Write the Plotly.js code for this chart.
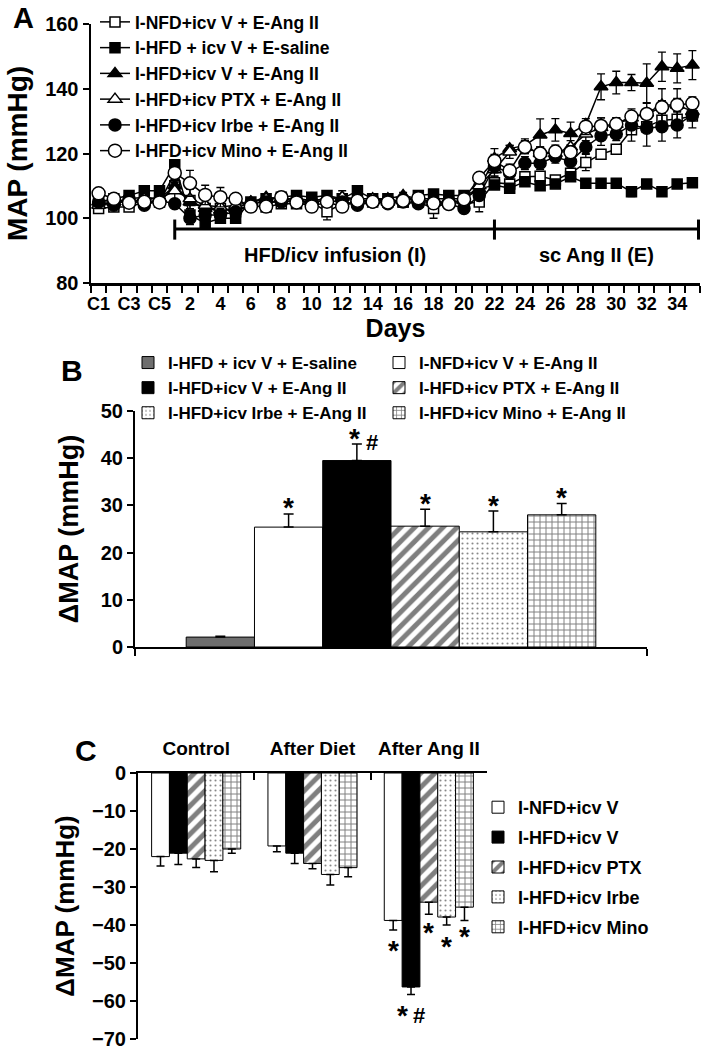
<!DOCTYPE html>
<html><head><meta charset="utf-8">
<script src="https://cdn.plot.ly/plotly-3.0.1.min.js"></script>
<style>html,body{margin:0;padding:0;background:#fff}#chart{width:727px;height:1050px}</style>
</head><body><div id="chart"></div>
<script>
// ---------- Panel A data ----------
const days = ['C1','C2','C3','C4','C5','1','2','3','4','5','6','7','8','9','10','11','12','13','14','15','16','17','18','19','20','21','22','23','24','25','26','27','28','29','30','31','32','33','34','35'];
const aNames = ['I-NFD+icv V + E-Ang II','I-HFD + icv V + E-saline','I-HFD+icv V + E-Ang II','I-HFD+icv PTX + E-Ang II','I-HFD+icv Irbe + E-Ang II','I-HFD+icv Mino + E-Ang II'];
const mapNfd = [103,103.5,103.5,105,105, 110,105.5,103,103,102, 104,103.5,104.5,104.5,105, 102,104.5,105,105,105, 105,105,103,105,104.5, 105,111,110.6,112.8,113, 111.8,113.9,117.2,119.8,121.3, 127.3,128.3,130.3,130.6,131.6];
const mapSaline = [105,106,107,108.5,108.5, 116.5,101,98.5,100,100, 105,106,106.5,107,106.5, 107,106,108.5,106,106, 105,107,107.5,107,107, 109,110.3,109.3,111.3,110, 110.6,112.8,110.8,110.8,110.8, 108.2,110.6,108.2,110.6,111];
const mapHfd = [105,105,106,106.5,106, 110,105,103,102.5,103, 105,106.5,106,106,105.5, 106,106.5,105.5,105.5,106, 107,106,106,106,106, 109,118.5,121.5,122.5,125.7, 127.3,126.2,129,140.6,141.9, 141.9,141.7,146.8,146.3,147.3];
const mapPtx = [104,105,105,106,106, 108.5,106,104,103.5,104, 105,106,106,106,105.5, 106,106.5,106,106,105, 105.5,106,105,105,105.5, 110,115,120.5,122,120, 120,122,126,128,129, 131,132.5,135,135,133];
const mapIrbe = [105,104,106,104,105.5, 104.5,100,101,101,102, 104.5,105,105,105.5,105, 105.5,105,104,105,104.5, 105,104.5,105,104.5,103, 107,116,114,117,117, 119,117.5,122,125.5,126, 128.8,127.8,128.3,128.8,131.9];
const mapMino = [107.7,106,104.8,105.1,104.9, 114,110.8,107.2,106.5,106, 103.6,103.6,106.5,104.9,103.6, 105.1,103.6,105.4,105.1,104.9, 105.4,106.2,104.6,104.4,105.9, 112.5,117.7,114.7,122,120, 120.6,120.4,128.3,128.5,129.1, 131.4,132.2,134.3,135,135.5];
const errNfd = [1,1,1,1,1, 2,1.5,1.5,1.5,1.5, 1,1,1,1,1, 2.5,1,1,1,1, 1,1,3,1,1, 3,2,1,1,1, 1,1,2.5,1,1, 1,1,1,1,1];
const errSaline = [1,1,1,1,1, 1,1.5,1.5,1.5,1.5, 1,1,1,1,1, 1,1,1,1,1, 1,1,1,1,1, 1,1,1,1,1, 1,1,1,1,1, 1.5,1,1,1,1];
const errHfd = [1,1,1,1,1, 2,2,2,1.5,1.5, 1,1,1,1,1, 1,2,1,1,1, 1,1,1,1,1, 2,3,1,2,5, 3.5,3.5,1,4,3.5, 2.5,6,4.5,4.5,4.5];
const errPtx = [1,1,1,1,1, 3,3,2,2,1, 1,1,1,1,1, 1,1,1,1,1, 1,1,1,1,1, 1,2,2,2,2, 2,2,3,3,2, 2,3,5,5,2];
const errIrbe = [1,1,1,1,1, 1,2,1.5,2,1, 1,1,1,1,1, 1,1,1,1,1, 1,1,1,1,1, 1,2,2,2,2, 2,2,2,3,2, 5,5.5,4.5,4,4];
const errMino = [1,1,1,1,1, 3,4,3,3,1, 1,1,1,1,1, 1,1,1,1,1, 1,1,1,1,1, 1,2,2,2,2, 2,2,2.5,2.5,2, 1.5,1.5,2,2,2];

// ---------- Panel B data ----------
const bNames = ['I-HFD + icv V + E-saline','I-NFD+icv V + E-Ang II','I-HFD+icv V + E-Ang II','I-HFD+icv PTX + E-Ang II','I-HFD+icv Irbe + E-Ang II','I-HFD+icv Mino + E-Ang II'];
const bValues = [2.1, 25.4, 39.5, 25.6, 24.4, 28.0];
const bErrors = [0.2, 2.8, 3.5, 3.6, 4.4, 2.4];
const bMarks = ['', '*', '*#', '*', '*', '*'];

// ---------- Panel C data ----------
const cGroups = ['Control','After Diet','After Ang II'];
const cNames = ['I-NFD+icv V','I-HFD+icv V','I-HFD+icv PTX','I-HFD+icv Irbe','I-HFD+icv Mino'];
const cNfd = [-22.0, -19.2, -38.8];
const cHfd = [-21.1, -21.1, -56.3];
const cPtx = [-22.6, -23.8, -34.0];
const cIrbe = [-23.0, -26.7, -37.9];
const cMino = [-20.0, -24.9, -35.3];
const cErrNfd = [2.5, 1.5, 2.5];
const cErrHfd = [3.0, 2.7, 2.0];
const cErrPtx = [2.3, 1.4, 3.2];
const cErrIrbe = [3.0, 2.8, 2.1];
const cErrMino = [1.1, 2.4, 3.5];
const cMarks = ['*', '*#', '*', '*', '*']; // for the "After Ang II" group

// ---------- styling ----------
const FONT = 'Liberation Sans, Arial, Helvetica, sans-serif';
const W = 727, H = 1050;
const fx = p => p / W;
const fy = p => 1 - p / H;
const bold = (size) => ({family: FONT, size: size, color: 'black', weight: 'bold'});

const idx = days.map((d, i) => i);
const aSeries = [mapNfd, mapSaline, mapHfd, mapPtx, mapIrbe, mapMino];
const aErrs = [errNfd, errSaline, errHfd, errPtx, errIrbe, errMino];
const aMarkers = [
  {symbol: 'square', color: 'white', size: 10},
  {symbol: 'square', color: 'black', size: 10},
  {symbol: 'triangle-up', color: 'black', size: 12},
  {symbol: 'triangle-up', color: 'white', size: 12},
  {symbol: 'circle', color: 'black', size: 12},
  {symbol: 'circle', color: 'white', size: 13}
];

const traces = [];
aSeries.forEach((ys, k) => {
  traces.push({
    type: 'scatter', mode: 'lines+markers', x: idx, y: ys, name: aNames[k],
    xaxis: 'x', yaxis: 'y', legend: 'legend', cliponaxis: false,
    line: {color: 'black', width: 1.5},
    marker: {symbol: aMarkers[k].symbol, color: aMarkers[k].color, size: aMarkers[k].size, line: {color: 'black', width: 1.5}},
    error_y: {type: 'data', array: aErrs[k], color: 'black', thickness: 1.3, width: 4}
  });
});

// bar fills
const fills = {
  white: {color: 'white'},
  black: {color: 'black'},
  gray: {color: '#6e6e6e'},
  hatch: {color: 'white', pattern: {shape: '/', fgcolor: 'black', bgcolor: 'white', fillmode: 'overlay', size: 10, solidity: 0.5}},
  dots: {color: 'white', pattern: {shape: '.', fgcolor: '#111', bgcolor: 'white', fillmode: 'overlay', size: 5, solidity: 0.14}},
  grid: {color: 'white', pattern: {shape: '+', fgcolor: 'black', bgcolor: 'white', fillmode: 'overlay', size: 6, solidity: 0.3}}
};
const bFill = [fills.gray, fills.white, fills.black, fills.hatch, fills.dots, fills.grid];
const cFill = [fills.white, fills.black, fills.hatch, fills.dots, fills.grid];

const bW = 0.8 / bValues.length;
bValues.forEach((v, k) => {
  traces.push({
    type: 'bar', x: ['ΔMAP'], y: [v], name: bNames[k], xaxis: 'x2', yaxis: 'y2', legend: 'legend2',
    width: bW, offset: -0.4 + k * bW,
    marker: Object.assign({}, bFill[k], {line: {color: 'black', width: 1}}),
    error_y: {type: 'data', symmetric: false, array: [bErrors[k]], arrayminus: [0], color: 'black', thickness: 1.5, width: 5}
  });
});

const cSeries = [cNfd, cHfd, cPtx, cIrbe, cMino];
const cErrs = [cErrNfd, cErrHfd, cErrPtx, cErrIrbe, cErrMino];
cSeries.forEach((ys, k) => {
  traces.push({
    type: 'bar', x: cGroups, y: ys, name: cNames[k], xaxis: 'x3', yaxis: 'y3', legend: 'legend3', legendgroup: 'c' + k,
    marker: Object.assign({}, cFill[k], {line: {color: 'black', width: 1}}),
    error_y: {type: 'data', symmetric: false, array: ys.map(() => 0), arrayminus: cErrs[k], color: 'black', thickness: 1.5, width: 4}
  });
});

// ---------- annotations ----------
const ann = [];
const txt = (x, y, text, size, xref, yref, extra) => Object.assign({x: x, y: y, text: text, xref: xref, yref: yref, xanchor: 'center', yanchor: 'middle', showarrow: false, font: bold(size)}, extra || {});
ann.push(txt(fx(24), fy(0), 'A', 29, 'paper', 'paper', {yanchor: 'top'}));
ann.push(txt(fx(72), fy(371), 'B', 30, 'paper', 'paper'));
ann.push(txt(fx(86), fy(750), 'C', 30, 'paper', 'paper'));

// bracket labels in panel A
const iStart = days.indexOf('1'), iMid = days.indexOf('22'), iEnd = days.length - 1 + 0.4;
const yBr = 96.7, yBrLo = 93.4, yBrHi = 99.6;
ann.push(txt((iStart + iMid) / 2, 88.6, 'HFD/icv infusion (I)', 20, 'x', 'y'));
ann.push(txt((iMid + iEnd) / 2, 88.6, 'sc Ang II (E)', 20, 'x', 'y'));
// significance marks at right of panel A
const last = days.length - 1;
[[0.83, 149.1, '*'], [1.68, 146.8, '#'], [0.98, 139.6, '*'], [1.27, 134.7, '*'], [1.2, 130.6, '*'], [0.94, 126.2, '*']].forEach(m => {
  ann.push(txt(last + m[0], m[1], m[2], m[2] === '*' ? 28 : 22, 'x', 'y', {yshift: m[2] === '*' ? -8 : -1.5}));
});
// panel B marks
bMarks.forEach((m, k) => {
  if (!m) return;
  const cx = -0.4 + (k + 0.5) * bW;
  const yTop = bValues[k] + bErrors[k];
  ann.push(txt(cx, yTop, '*', 28, 'x2', 'y2', {yshift: 6, xshift: m.indexOf('#') >= 0 ? -2 : 0}));
  if (m.indexOf('#') >= 0) ann.push(txt(cx, yTop, '#', 22, 'x2', 'y2', {xshift: 15, yshift: 2}));
});
// panel C marks (After Ang II group)
const cW = (1 - 0.234) / cSeries.length;
const cStarShift = [-21, -21, -18, -21, -16];
cMarks.forEach((m, k) => {
  const g = cGroups.length - 1;
  const cx = g - (1 - 0.234) / 2 + (k + 0.5) * cW;
  const yBot = cSeries[k][g] - cErrs[k][g];
  const hasHash = m.indexOf('#') >= 0;
  ann.push(txt(cx, yBot, '*', 28, 'x3', 'y3', {yshift: cStarShift[k], xshift: hasHash ? -9 : 0}));
  if (hasHash) ann.push(txt(cx, yBot, '#', 22, 'x3', 'y3', {yshift: -21, xshift: 8}));
});

const shapes = [
  {type: 'line', xref: 'x', yref: 'y', x0: iStart, x1: iEnd, y0: yBr, y1: yBr, line: {color: 'black', width: 3}},
  {type: 'line', xref: 'x', yref: 'y', x0: iStart, x1: iStart, y0: yBrLo, y1: yBrHi, line: {color: 'black', width: 3}},
  {type: 'line', xref: 'x', yref: 'y', x0: iMid, x1: iMid, y0: yBrLo, y1: yBrHi, line: {color: 'black', width: 3}},
  {type: 'line', xref: 'x', yref: 'y', x0: iEnd, x1: iEnd, y0: yBrLo, y1: yBrHi, line: {color: 'black', width: 3}}
];

const axBase = {showline: true, linecolor: 'black', showgrid: false, zeroline: false, ticks: 'outside', tickcolor: 'black', tickwidth: 2, ticklabeloverflow: 'allow'};
const evenIdx = idx.filter(i => i % 2 === 0);
const bounds = [];
for (let i = 0; i <= days.length; i++) bounds.push(i - 0.5);

const layout = {
  width: W, height: H, margin: {l: 0, r: 0, t: 0, b: 0},
  paper_bgcolor: 'white', plot_bgcolor: 'rgba(0,0,0,0)',
  font: bold(16),
  barmode: 'group', bargap: 0.234, bargroupgap: 0,
  xaxis: Object.assign({}, axBase, {
    domain: [fx(91), fx(700)], anchor: 'y', range: [-0.5, 39.5], linewidth: 2.5,
    tickmode: 'array', tickvals: evenIdx, ticktext: evenIdx.map(i => days[i]), ticks: '', ticklabelstandoff: 3,
    minor: {tickmode: 'array', tickvals: bounds, ticks: 'outside', ticklen: 7, tickwidth: 2, tickcolor: 'black', showgrid: false},
    tickfont: bold(18), title: {text: 'Days', font: bold(25), standoff: 6}
  }),
  yaxis: Object.assign({}, axBase, {
    domain: [fy(283), fy(24)], anchor: 'x', range: [80, 160], dtick: 20, linewidth: 2.5, ticklen: 6,
    tickfont: bold(20), title: {text: 'MAP (mmHg)', font: bold(28), standoff: 10}
  }),
  xaxis2: Object.assign({}, axBase, {
    domain: [fx(135), fx(647)], anchor: 'y2', type: 'category', showticklabels: false, tickson: 'boundaries', ticklen: 7, linewidth: 2
  }),
  yaxis2: Object.assign({}, axBase, {
    domain: [fy(647), fy(411)], anchor: 'x2', range: [0, 50], dtick: 10, ticklen: 6, linewidth: 2,
    tickfont: bold(20), title: {text: 'ΔMAP (mmHg)', font: bold(27), standoff: 14}
  }),
  xaxis3: Object.assign({}, axBase, {
    domain: [fx(138), fx(487)], anchor: 'y3', type: 'category', side: 'top', ticks: 'inside', tickson: 'boundaries', ticklen: 7, linewidth: 2,
    tickfont: bold(19), tickangle: 0, ticklabelstandoff: 8
  }),
  yaxis3: Object.assign({}, axBase, {
    domain: [fy(1039), fy(773)], anchor: 'x3', range: [-70, 0], dtick: 10, ticklen: 6, linewidth: 2,
    tickfont: bold(20), title: {text: 'ΔMAP (mmHg)', font: bold(26), standoff: 10}
  }),
  legend: {x: fx(95), y: fy(4), xanchor: 'left', yanchor: 'top', bgcolor: 'rgba(0,0,0,0)', font: bold(17.5), traceorder: 'normal'},
  legend2: {orientation: 'h', x: fx(128), y: fy(345), xanchor: 'left', yanchor: 'top', bgcolor: 'rgba(0,0,0,0)', font: bold(17), entrywidthmode: 'pixels', entrywidth: 206, traceorder: 'normal'},
  legend3: {x: fx(478), y: fy(789), xanchor: 'left', yanchor: 'top', bgcolor: 'rgba(0,0,0,0)', font: bold(18), tracegroupgap: 3.5, traceorder: 'grouped'},
  annotations: ann, shapes: shapes
};

Plotly.newPlot('chart', traces, layout, {staticPlot: true});
</script></body></html>
